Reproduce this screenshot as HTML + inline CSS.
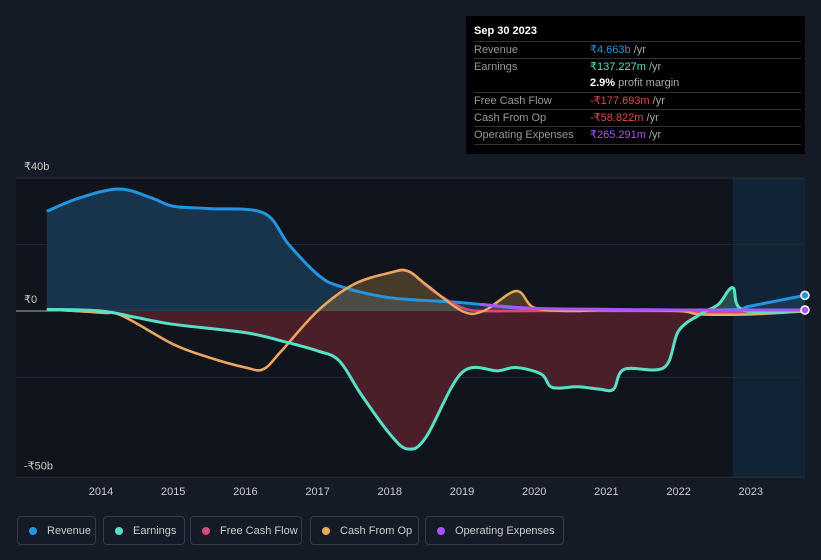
<!DOCTYPE html>
<html><head><meta charset="utf-8"><style>
body{margin:0;background:#151b26;width:821px;height:560px;overflow:hidden;font-family:"Liberation Sans",sans-serif;}
.tt{position:absolute;left:466px;top:16px;width:339px;height:138px;background:#000;border-radius:2px;color:#ccc;font-size:11px}
.tt .h{position:absolute;left:8px;top:9px;color:#fff;font-weight:bold;font-size:11px}
.row{position:absolute;left:8px;width:327px;border-top:1px solid #333;height:17px;line-height:17px}
.row .l{position:absolute;left:0;color:#999}.row .v{position:absolute;left:116px}
.leg{position:absolute;top:516px;height:29px;border:1px solid #333c4a;border-radius:4px;color:#ccc;font-size:11px;line-height:29px;box-sizing:border-box}
.dot{display:inline-block;width:8px;height:8px;border-radius:50%;margin:0 10px 0 11px;vertical-align:-1px}
</style></head><body>
<svg id="c" width="821" height="560" style="position:absolute;left:0;top:0"></svg>
<div class="tt">
<div class="h">Sep 30 2023</div>
<div class="row" style="top:25px"><span class="l">Revenue</span><span class="v" style="color:#2394df">₹4.663b <span style="color:#aaa">/yr</span></span></div>
<div class="row" style="top:42px"><span class="l">Earnings</span><span class="v" style="color:#58e0c6">₹137.227m <span style="color:#aaa">/yr</span></span></div>
<div class="row" style="top:59px;border-top:none"><span class="v" style="color:#fff;font-weight:bold">2.9% <span style="color:#aaa;font-weight:normal">profit margin</span></span></div>
<div class="row" style="top:76px"><span class="l">Free Cash Flow</span><span class="v" style="color:#e84848">-₹177.693m <span style="color:#aaa">/yr</span></span></div>
<div class="row" style="top:93px"><span class="l">Cash From Op</span><span class="v" style="color:#e84848">-₹58.822m <span style="color:#aaa">/yr</span></span></div>
<div class="row" style="top:110px"><span class="l">Operating Expenses</span><span class="v" style="color:#a855f7">₹265.291m <span style="color:#aaa">/yr</span></span></div>
<div class="row" style="top:128px;height:1px"></div>
</div>
<div class="leg" style="left:17px;width:79px"><span class="dot" style="background:#2394df"></span>Revenue</div>
<div class="leg" style="left:103px;width:82px"><span class="dot" style="background:#58e0c6"></span>Earnings</div>
<div class="leg" style="left:190px;width:112px"><span class="dot" style="background:#d9487a"></span>Free Cash Flow</div>
<div class="leg" style="left:310px;width:109px"><span class="dot" style="background:#e8a95c"></span>Cash From Op</div>
<div class="leg" style="left:425px;width:139px"><span class="dot" style="background:#a855f7"></span>Operating Expenses</div>
<script>
const revX=[2013.25,2013.7,2014.25,2014.7,2015,2015.5,2016.25,2016.6,2017,2017.3,2018,2019,2020,2021,2022,2022.8,2023,2023.75];
const revY=[30,34,36.7,34,31.5,30.8,29.5,20,11,7.5,4,2.5,0.5,0.3,0.2,0.5,1.5,4.7];
const earnX=[2013.25,2014,2014.5,2015,2016,2016.5,2017,2017.3,2017.6,2018,2018.25,2018.5,2019,2019.5,2019.75,2020.1,2020.25,2020.6,2020.9,2021.1,2021.25,2021.8,2022,2022.3,2022.55,2022.75,2022.9,2023.75];
const earnY=[0.5,0,-2,-4,-6.5,-9,-12,-15,-25,-37,-41.5,-38,-18.5,-18,-17,-19,-23,-22.8,-23.5,-23.5,-17.5,-17,-6,-1,2,7,0.2,0.1];
const cfoX=[2013.25,2014,2014.3,2015,2015.5,2016,2016.25,2016.5,2017,2017.5,2018,2018.25,2018.5,2019,2019.3,2019.75,2020,2020.5,2021,2022,2022.3,2023,2023.75];
const cfoY=[0.5,-0.5,-1.5,-10,-14,-17,-17.5,-12,0,8,11.5,12,8,0,0,6,1,0,0.3,0,-1,-1,-0.1];
const fcfX=[2013.25,2014,2014.3,2015,2015.5,2016,2016.25,2016.5,2017,2017.5,2018,2018.25,2018.6,2019,2019.3,2020,2022,2022.5,2023.75];
const fcfY=[0.5,-0.5,-1.5,-10,-14,-17,-17.5,-12,0,8,11.5,12,6,1,0,0,0,-0.5,-0.2];
const opxX=[2019.25,2020,2021,2022,2023.75];
const opxY=[2,0.8,0.5,0.3,0.3];
const yTicks=[40,0,-50];const yTickLabels=["₹40b","₹0","-₹50b"];
const xTicks=[2014,2015,2016,2017,2018,2019,2020,2021,2022,2023];
const sx=v=>101+(v-2014)*72.2, sy=v=>311-v*3.325;
const svg=document.getElementById('c');const NS='http://www.w3.org/2000/svg';
function mk(t,a,p){const e=document.createElementNS(NS,t);for(const k in a)e.setAttribute(k,a[k]);(p||svg).appendChild(e);return e;}
function path(xs,ys){const p=xs.map((x,i)=>[sx(x),sy(ys[i])]);let d='M'+p[0][0]+','+p[0][1];
for(let i=0;i<p.length-1;i++){const p0=p[i-1]||p[i],p1=p[i],p2=p[i+1],p3=p[i+2]||p2;
d+=` C${p1[0]+(p2[0]-p0[0])/6},${p1[1]+(p2[1]-p0[1])/6} ${p2[0]-(p3[0]-p1[0])/6},${p2[1]-(p3[1]-p1[1])/6} ${p2[0]},${p2[1]}`;}return d;}
function area(xs,ys){return path(xs,ys)+` L${sx(xs[xs.length-1])},${sy(0)} L${sx(xs[0])},${sy(0)} Z`;}
const defs=mk('defs',{});
const cp=mk('clipPath',{id:'pos'},defs);mk('rect',{x:0,y:0,width:821,height:sy(0)},cp);
const cn=mk('clipPath',{id:'neg'},defs);mk('rect',{x:0,y:sy(0),width:821,height:300},cn);
let e=mk('rect',{x:16,y:178,width:789,height:300,fill:'#10141c'});
e=mk('rect',{x:733,y:178,width:72,height:300,fill:'#112436'});
yTicks.forEach((t,i)=>{e=mk('line',{x1:16,x2:805,y1:sy(t),y2:sy(t),stroke:t==0?'#aaa':'#2a303a','stroke-width':1});
e=mk('text',{x:24,y:sy(t)-8,fill:'#ccc','font-size':11});e.textContent=yTickLabels[i];});
[20,-20].forEach(t=>mk('line',{x1:16,x2:805,y1:sy(t),y2:sy(t),stroke:'#222832'}));
xTicks.forEach(t=>{e=mk('text',{x:sx(t),y:495,fill:'#ccc','font-size':11,'text-anchor':'middle'});e.textContent=t;});
e=mk('path',{d:area(revX,revY),fill:'#1a3a56','fill-opacity':0.85});
e=mk('path',{d:area(earnX,earnY),fill:'#4a1f29','clip-path':'url(#neg)'});
e=mk('path',{d:area(earnX,earnY),fill:'#2a6a5e','fill-opacity':0.7,'clip-path':'url(#pos)'});
e=mk('path',{d:area(cfoX,cfoY),fill:'#8a6a3c','fill-opacity':0.45,'clip-path':'url(#pos)'});
e=mk('path',{d:path(revX,revY),fill:'none',stroke:'#2394df','stroke-width':3});
e=mk('path',{d:path(fcfX,fcfY),fill:'none',stroke:'#d9487a','stroke-width':2.5});
e=mk('path',{d:path(cfoX,cfoY),fill:'none',stroke:'#e8a95c','stroke-width':2.5});
e=mk('path',{d:path(earnX,earnY),fill:'none',stroke:'#58e0c6','stroke-width':3});
e=mk('path',{d:path(opxX,opxY),fill:'none',stroke:'#a855f7','stroke-width':3});
e=mk('circle',{cx:sx(revX[revX.length-1]),cy:sy(revY[revY.length-1]),r:4,fill:'#2394df',stroke:'#fff','stroke-width':1.5});
e=mk('circle',{cx:sx(opxX[opxX.length-1]),cy:sy(opxY[opxY.length-1]),r:4,fill:'#a855f7',stroke:'#fff','stroke-width':1.5});
</script>
</body></html>
